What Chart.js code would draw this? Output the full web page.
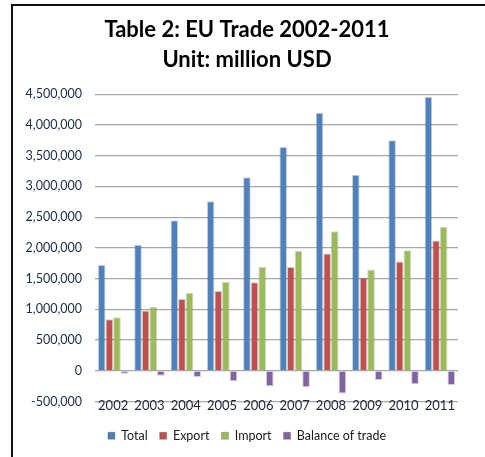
<!DOCTYPE html>
<html>
<head>
<meta charset="utf-8">
<script src="https://cdn.jsdelivr.net/npm/chart.js@4/dist/chart.umd.min.js"></script>
<style>
    html, body { margin: 0; padding: 0; background: #ffffff; }
    #wrap { position: relative; width: 485px; height: 457px; overflow: hidden; }
    #frame {
        position: absolute; left: 11px; top: 4px; width: 500px; height: 500px;
        border-top: 2px solid #111; border-left: 2px solid #111;
    }
    canvas { position: absolute; left: 0; top: 0; }
</style>
</head>
<body>
<div id="wrap">
    <div id="frame"></div>
    <canvas id="chart" width="485" height="457"></canvas>
</div>
<script>
const years = ["2002", "2003", "2004", "2005", "2006", "2007", "2008", "2009", "2010", "2011"];
const total = [1720000, 2050000, 2450000, 2760000, 3150000, 3640000, 4200000, 3190000, 3750000, 4460000];
const exportVals = [840000, 980000, 1170000, 1300000, 1440000, 1690000, 1910000, 1520000, 1780000, 2120000];
const importVals = [870000, 1040000, 1270000, 1450000, 1690000, 1950000, 2270000, 1650000, 1960000, 2340000];
const balance = [-50000, -80000, -100000, -170000, -250000, -270000, -370000, -150000, -220000, -230000];

const FONT = "Lato, 'Open Sans', sans-serif";
const COLORS = {
    Total: "#4f81bd",
    Export: "#c0504d",
    Import: "#9bbb59",
    Balance: "#8064a2",
};

const makeSet = (label, data, color) => ({
    label,
    data,
    backgroundColor: color,
    borderColor: "rgba(0,0,0,0.18)",
    borderWidth: 1,
    categoryPercentage: 0.84,
    barPercentage: 1.0,
});

new Chart(document.getElementById("chart"), {
    type: "bar",
    data: {
        labels: years,
        datasets: [
            makeSet("Total", total, COLORS.Total),
            makeSet("Export", exportVals, COLORS.Export),
            makeSet("Import", importVals, COLORS.Import),
            makeSet("Balance of trade", balance, COLORS.Balance),
        ],
    },
    options: {
        responsive: false,
        animation: false,
        layout: { padding: { left: 12, right: 3, top: 15, bottom: 5 } },
        plugins: {
            title: {
                display: true,
                text: ["Table 2: EU Trade 2002-2011", "Unit: million USD"],
                color: "#000000",
                font: { family: FONT, size: 22, weight: "bold", lineHeight: 1.37 },
                padding: { top: 0, bottom: 19 },
            },
            legend: {
                position: "bottom",
                title: {
                    // empty spacer line between floor and legend
                    display: true,
                    text: " ",
                    font: { size: 10, lineHeight: 1.6 },
                    padding: 0,
                },
                labels: {
                    boxWidth: 7,
                    boxHeight: 7,
                    padding: 12,
                    color: "#1a1a1a",
                    font: { family: FONT, size: 12.5 },
                },
            },
            tooltip: { enabled: false },
        },
        scales: {
            x: {
                position: { y: 0 },
                grid: { display: false },
                border: { display: false },
                ticks: {
                    padding: 19,
                    color: "#1a2233",
                    font: { family: FONT, size: 13 },
                    maxRotation: 0,
                },
            },
            y: {
                min: -500000,
                max: 4500000,
                afterFit: (scale) => { scale.width = 83; },
                grid: { color: "#a8a8a8", lineWidth: 1.2, drawTicks: false },
                border: { display: false },
                ticks: {
                    stepSize: 500000,
                    padding: 13,
                    color: "#1a2a44",
                    font: { family: FONT, size: 12.5 },
                    callback: (v) => v.toLocaleString("en-US"),
                },
            },
            // empty right margin so the plot ends where the reference's does
            yPad: {
                position: "right",
                display: true,
                afterFit: (scale) => { scale.width = 24; },
                grid: { display: false },
                border: { display: false },
                ticks: { display: false },
            },
        },
    },
});
</script>
</body>
</html>
